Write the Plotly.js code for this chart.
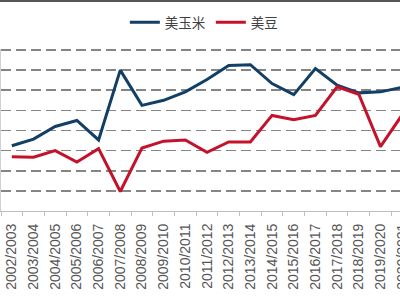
<!DOCTYPE html>
<html>
<head>
<meta charset="utf-8">
<script src="https://cdn.plot.ly/plotly-3.0.1.min.js"></script>
<style>
html,body{margin:0;padding:0;overflow:hidden;background:#fff;}
#wrap{position:relative;width:400px;height:300px;overflow:hidden;}
#chart{width:416px;height:300px;}
#topline{position:absolute;left:0;top:0;width:400px;height:2px;background:#555;z-index:5;}
</style>
</head>
<body>
<div id="wrap"><div id="topline"></div><div id="chart"></div></div>
<script>
const seasons = ["2002/2003","2003/2004","2004/2005","2005/2006","2006/2007","2007/2008","2008/2009","2009/2010","2010/2011","2011/2012","2012/2013","2013/2014","2014/2015","2015/2016","2016/2017","2017/2018","2018/2019","2019/2020","2020/2021"];
const corn = [3.24,3.57,4.2,4.5,3.53,7.0,5.25,5.5,5.92,6.53,7.23,7.27,6.33,5.78,7.08,6.25,5.87,5.92,6.15];
const soy  = [2.7,2.67,3.0,2.43,3.1,0.97,3.13,3.47,3.53,2.92,3.43,3.43,4.75,4.53,4.75,6.17,5.8,3.2,4.78];
const seriesNames = ["美玉米","美豆"];

const traces = [
  {x: seasons, y: corn, name: seriesNames[0], type: "scatter", mode: "lines",
   line: {color: "#123F66", width: 3}},
  {x: seasons, y: soy, name: seriesNames[1], type: "scatter", mode: "lines",
   line: {color: "#C4122B", width: 3}}
];

const layout = {
  width: 416, height: 300,
  margin: {l: 1, r: 3, t: 49, b: 89, pad: 0},
  paper_bgcolor: "#fff", plot_bgcolor: "#fff",
  showlegend: true,
  legend: {orientation: "h", xref: "container", x: 0.49, xanchor: "center",
           yref: "container", y: 0.925, yanchor: "middle",
           font: {family: "Noto Sans CJK SC, sans-serif", size: 13.5, color: "#404040"},
           itemwidth: 30, tracegroupgap: 0},
  xaxis: {type: "category", range: [-0.5, 18.5], tickson: "boundaries",
          ticks: "outside", ticklen: 4, tickcolor: "#bfbfbf", tickwidth: 1,
          showline: true, linecolor: "#bfbfbf", linewidth: 1,
          showgrid: false, tickangle: -90, ticklabelstandoff: 6,
          tickfont: {family: "Liberation Sans, Arial, sans-serif", size: 14, color: "#555555"}},
  yaxis: {range: [0, 8.05], dtick: 1, showticklabels: false, ticks: "",
          showgrid: true, gridcolor: "#858585", gridwidth: 1.7, griddash: "10px,5px",
          showline: true, linecolor: "#d0d0d0", linewidth: 1, zeroline: false}
};

Plotly.newPlot("chart", traces, layout, {displayModeBar: false, staticPlot: true});
</script>
</body>
</html>
